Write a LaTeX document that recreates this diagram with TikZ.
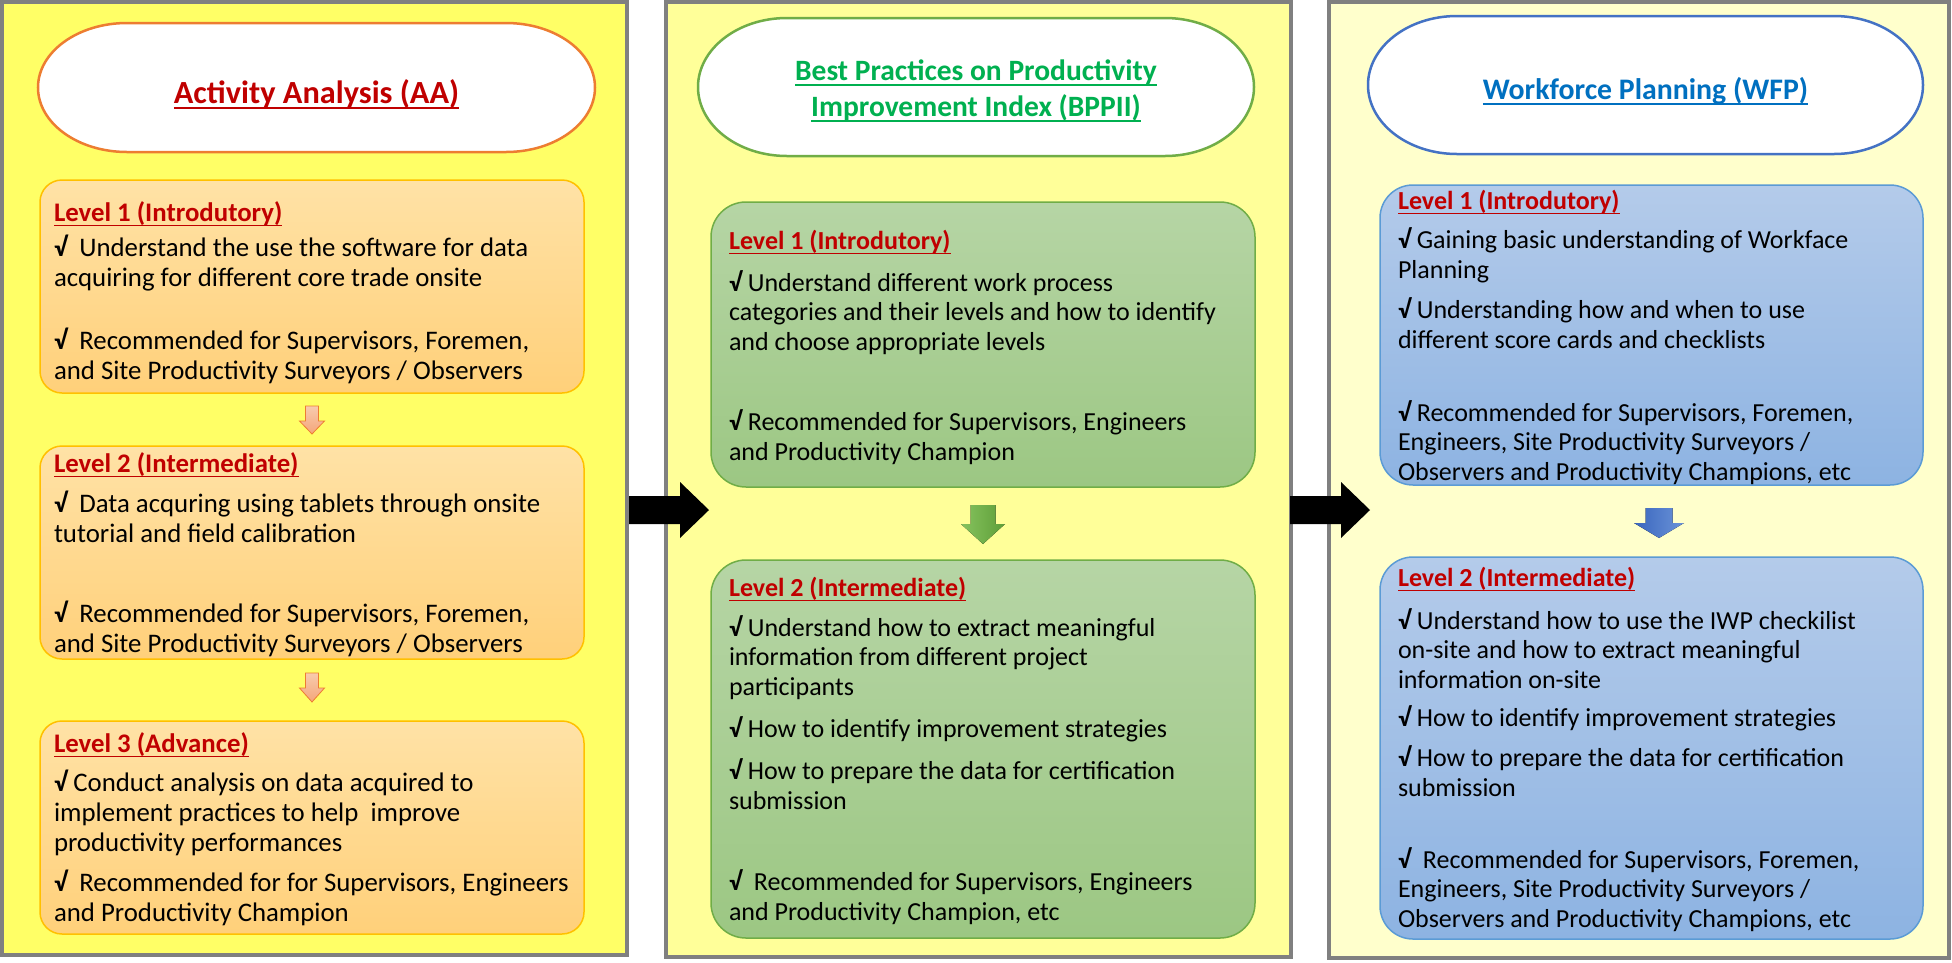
\documentclass[tikz,border=0pt]{standalone}
\usepackage{fontspec}
\setmainfont{Carlito}
\usetikzlibrary{calc}
\definecolor{pone}{HTML}{FFFF66}
\definecolor{ptwo}{HTML}{FFFF99}
\definecolor{pthree}{HTML}{FFFFCC}
\definecolor{pborder}{HTML}{808080}
\definecolor{hdred}{HTML}{C00000}
\definecolor{aatop}{HTML}{FFE2A6}
\definecolor{aabot}{HTML}{FFD07A}
\definecolor{aaline}{HTML}{FFC000}
\definecolor{bptop}{HTML}{B6D5A5}
\definecolor{bpbot}{HTML}{9CC783}
\definecolor{bpline}{HTML}{70AD47}
\definecolor{wftop}{HTML}{B4CBEA}
\definecolor{wfbot}{HTML}{8DB3E2}
\definecolor{wfline}{HTML}{5B9BD5}
\definecolor{orline}{HTML}{ED7D31}
\definecolor{ortop}{HTML}{F8CBAD}
\definecolor{orbot}{HTML}{F4A57A}
\definecolor{bpgreen}{HTML}{00B050}
\definecolor{wfblue}{HTML}{0070C0}
\definecolor{stblue}{HTML}{4472C4}
\definecolor{garrl}{HTML}{86C35E}
\definecolor{garrr}{HTML}{5E9E38}
\definecolor{barrl}{HTML}{3A66BE}
\definecolor{barrr}{HTML}{6A93D8}
\newcommand\ckn{{\bfseries √}\space}
\newcommand\ckw{{\bfseries √}\hspace{12pt}}
\newcommand\hdtext[1]{{\bfseries\color{hdred}\setbox0\hbox{#1}\rlap{\rule[-5.1pt]{\wd0}{1.6pt}}\box0}}
\newcommand\ttl[1]{{\setbox0\hbox{#1}\rlap{\rule[-6pt]{\wd0}{2pt}}\box0}}
\begin{document}
\begin{tikzpicture}[x=1pt,y=-1pt,
  panel/.style={draw=pborder, line width=4pt, inner sep=0pt, outer sep=0pt},
  box/.style={line width=1.5pt, inner sep=0pt, outer sep=0pt},
  aabox/.style={box, draw=aaline, rounded corners=22pt, top color=aatop, bottom color=aabot},
  bpbox/.style={box, draw=bpline, rounded corners=35pt, top color=bptop, bottom color=bpbot},
  wfbox/.style={box, draw=wfline, rounded corners=33pt, top color=wftop, bottom color=wfbot},
  txt/.style={anchor=base west, align=left, inner sep=0pt, outer sep=0pt, font=\fontsize{26}{29.5}\selectfont},
  aatxt/.style={txt, font=\fontsize{26.8}{30}\selectfont},
  title/.style={anchor=base, align=center, inner sep=0pt, outer sep=0pt, font=\bfseries\fontsize{29.5}{36}\selectfont},
  stad/.style={draw, fill=white, line width=2.5pt},
  darr/.style={line width=0.8pt}
]
\useasboundingbox (0,0) rectangle (1952,962);
\fill[white] (0,0) rectangle (1952,962);

% panels
\node[panel, fill=pone, minimum width=625pt, minimum height=953pt] (p1) at (314.5,478.5) {};
\node[panel, fill=ptwo, minimum width=625pt, minimum height=955pt] (p2) at (978.5,479.5) {};
\node[panel, fill=pthree, minimum width=620pt, minimum height=956pt] (p3) at (1639,480) {};

% title stadiums
\draw[stad, draw=orline] (127,23) -- (506,23) arc[start angle=-90, end angle=90, x radius=89, y radius=64.5] -- (127,152) arc[start angle=90, end angle=270, x radius=89, y radius=64.5] -- cycle;
\draw[stad, draw=bpline] (787,18) -- (1165,18) arc[start angle=-90, end angle=90, x radius=89, y radius=69] -- (787,156) arc[start angle=90, end angle=270, x radius=89, y radius=69] -- cycle;
\draw[stad, draw=stblue] (1457,16) -- (1834,16) arc[start angle=-90, end angle=90, x radius=89, y radius=69] -- (1457,154) arc[start angle=90, end angle=270, x radius=89, y radius=69] -- cycle;

\node[title, font=\bfseries\fontsize{32.3}{36}\selectfont, text=hdred] (aat) at (316.5,103) {\ttl{Activity Analysis (AA)}};
\node[title, text=bpgreen] (bpt) at (976,116) {\ttl{Best Practices on Productivity}\\\ttl{Improvement Index (BPPII)}};
\node[title, font=\bfseries\fontsize{29.8}{36}\selectfont, text=wfblue] (wft) at (1645.5,99) {\ttl{Workforce Planning (WFP)}};

% level boxes
\node[aabox, minimum width=544pt, minimum height=213pt] (aa1) at (312,286.5) {};
\node[aabox, minimum width=544pt, minimum height=213pt] (aa2) at (312,552.5) {};
\node[aabox, minimum width=544pt, minimum height=213pt] (aa3) at (312,827.5) {};
\node[bpbox, minimum width=544pt, minimum height=285pt] (bp1) at (983,344.5) {};
\node[bpbox, minimum width=544pt, minimum height=378pt] (bp2) at (983,749) {};
\node[wfbox, minimum width=543pt, minimum height=300pt] (wf1) at (1651.5,335) {};
\node[wfbox, minimum width=543pt, minimum height=382pt] (wf2) at (1651.5,748) {};

% black arrows between panels
\fill[black] (629,496) -- (680,496) -- (680,482) -- (709,510) -- (680,538) -- (680,524) -- (629,524) -- cycle;
\fill[black] (1290,496) -- (1341,496) -- (1341,482) -- (1370,510) -- (1341,538) -- (1341,524) -- (1290,524) -- cycle;

% down arrows
\draw[darr, draw=orline, top color=ortop, bottom color=orbot] (305.5,406) -- (318.5,406) -- (318.5,421) -- (324.5,421) -- (312,434) -- (299.5,421) -- (305.5,421) -- cycle;
\draw[darr, draw=orline, top color=ortop, bottom color=orbot] (305.5,673) -- (318.5,673) -- (318.5,688) -- (324.5,688) -- (312,702) -- (299.5,688) -- (305.5,688) -- cycle;
\fill[left color=garrl, right color=garrr] (970.5,505) -- (995.5,505) -- (995.5,524) -- (1005,524) -- (983,544) -- (961,524) -- (970.5,524) -- cycle;
\fill[left color=barrl, right color=barrr] (1645.5,508) -- (1672.5,508) -- (1672.5,523) -- (1684,523) -- (1659,538) -- (1634,523) -- (1645.5,523) -- cycle;

% AA texts (base anchor = last line)
\node[aatxt] (aa1h) at (54,221) {\hdtext{Level 1 (Introdutory)}};
\node[aatxt] (aa1a) at (54,286) {\ckw Understand the use the software for data\\acquiring for different core trade onsite};
\node[aatxt] (aa1b) at (54,379) {\ckw Recommended for Supervisors, Foremen,\\and Site Productivity Surveyors / Observers};
\node[aatxt] (aa2h) at (54,472) {\hdtext{Level 2 (Intermediate)}};
\node[aatxt] (aa2a) at (54,542) {\ckw Data acquring using tablets through onsite\\tutorial and field calibration};
\node[aatxt] (aa2b) at (54,652) {\ckw Recommended for Supervisors, Foremen,\\and Site Productivity Surveyors / Observers};
\node[aatxt] (aa3h) at (54,752) {\hdtext{Level 3 (Advance)}};
\node[aatxt] (aa3a) at (54,851) {\ckn Conduct analysis on data acquired to\\implement practices to help\space\space improve\\productivity performances};
\node[aatxt] (aa3b) at (54,921) {\ckw Recommended for for Supervisors, Engineers\\and Productivity Champion};

% BPPII texts
\node[txt] (bp1h) at (729,249) {\hdtext{Level 1 (Introdutory)}};
\node[txt] (bp1a) at (729,350) {\ckn Understand different work process\\categories and their levels and how to identify\\and choose appropriate levels};
\node[txt] (bp1b) at (729,460) {\ckn Recommended for Supervisors, Engineers\\and Productivity Champion};
\node[txt] (bp2h) at (729,596) {\hdtext{Level 2 (Intermediate)}};
\node[txt] (bp2a) at (729,695) {\ckn Understand how to extract meaningful\\information from different project\\participants};
\node[txt] (bp2b) at (729,737) {\ckn How to identify improvement strategies};
\node[txt] (bp2c) at (729,809) {\ckn How to prepare the data for certification\\submission};
\node[txt] (bp2d) at (729,920) {\ckw Recommended for Supervisors, Engineers\\and Productivity Champion, etc};

% WFP texts
\node[txt] (wf1h) at (1398,209) {\hdtext{Level 1 (Introdutory)}};
\node[txt] (wf1a) at (1398,278) {\ckn Gaining basic understanding of Workface\\Planning};
\node[txt] (wf1b) at (1398,348) {\ckn Understanding how and when to use\\different score cards and checklists};
\node[txt] (wf1c) at (1398,480) {\ckn Recommended for Supervisors, Foremen,\\Engineers, Site Productivity Surveyors /\\Observers and Productivity Champions, etc};
\node[txt] (wf2h) at (1398,586) {\hdtext{Level 2 (Intermediate)}};
\node[txt] (wf2a) at (1398,688) {\ckn Understand how to use the IWP checkilist\\on-site and how to extract meaningful\\information on-site};
\node[txt] (wf2b) at (1398,726) {\ckn How to identify improvement strategies};
\node[txt] (wf2c) at (1398,796) {\ckn How to prepare the data for certification\\submission};
\node[txt] (wf2d) at (1398,927) {\ckw Recommended for Supervisors, Foremen,\\Engineers, Site Productivity Surveyors /\\Observers and Productivity Champions, etc};
\end{tikzpicture}
\end{document}
